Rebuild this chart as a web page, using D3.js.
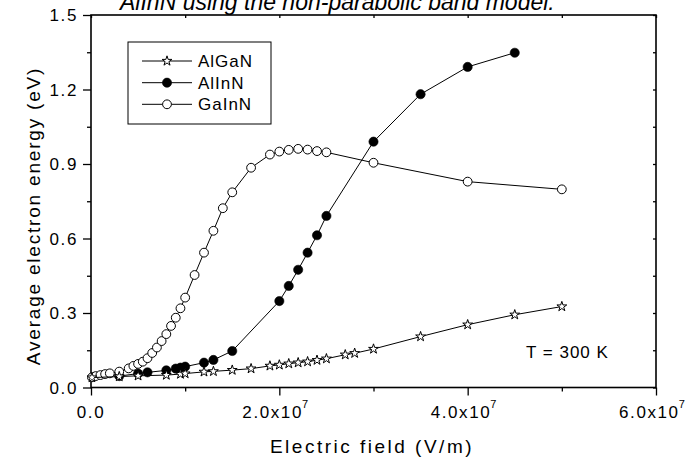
<!DOCTYPE html>
<html>
<head>
<meta charset="utf-8">
<script src="https://cdn.jsdelivr.net/npm/d3@7"></script>
<style>
  html, body { margin: 0; padding: 0; background: #fff; }
  svg { display: block; font-family: "Liberation Sans", Arial, sans-serif; }
</style>
</head>
<body>
<svg id="chart" width="699" height="457"></svg>
<script>
// ---- data (field in V/m, energy in eV) ----
const fieldGaInN = [0.01e7,0.05e7,0.10e7,0.15e7,0.2e7,0.3e7,0.4e7,0.45e7,0.5e7,0.55e7,0.6e7,0.65e7,0.7e7,0.75e7,0.8e7,0.85e7,0.9e7,0.95e7,1.0e7,1.1e7,1.2e7,1.3e7,1.4e7,1.5e7,1.7e7,1.9e7,2.0e7,2.1e7,2.2e7,2.3e7,2.4e7,2.5e7,3.0e7,4.0e7,5.0e7];
const energyGaInN = [0.041,0.046,0.050,0.054,0.057,0.064,0.077,0.087,0.095,0.104,0.118,0.139,0.161,0.187,0.215,0.248,0.281,0.319,0.362,0.453,0.543,0.631,0.722,0.786,0.885,0.938,0.950,0.957,0.961,0.958,0.952,0.947,0.905,0.829,0.798];

const fieldAlInN = [0.3e7,0.5e7,0.6e7,0.8e7,0.9e7,0.95e7,1.0e7,1.2e7,1.3e7,1.5e7,2.0e7,2.1e7,2.2e7,2.3e7,2.4e7,2.5e7,3.0e7,3.5e7,4.0e7,4.5e7];
const energyAlInN = [0.046,0.056,0.061,0.069,0.076,0.080,0.084,0.100,0.111,0.147,0.348,0.409,0.474,0.543,0.613,0.691,0.990,1.181,1.291,1.348];

const fieldAlGaN = [0.01e7,0.3e7,0.5e7,0.8e7,0.95e7,1.0e7,1.2e7,1.3e7,1.5e7,1.7e7,1.9e7,2.0e7,2.1e7,2.2e7,2.3e7,2.4e7,2.5e7,2.7e7,2.8e7,3.0e7,3.5e7,4.0e7,4.5e7,5.0e7];
const energyAlGaN = [0.040,0.044,0.047,0.050,0.054,0.056,0.063,0.065,0.070,0.076,0.087,0.091,0.096,0.100,0.104,0.110,0.116,0.132,0.138,0.155,0.205,0.253,0.293,0.326];

const seriesNames = ["AlGaN", "AlInN", "GaInN"];
const xMajorTicks = [0, 2e7, 4e7, 6e7];
const xMinorTicks = [1e7, 3e7, 5e7];
const xTickLabels = ["0.0", "2.0x10", "4.0x10", "6.0x10"];
const xTickExponent = "7";
const yMajorTicks = [0, 0.3, 0.6, 0.9, 1.2, 1.5];
const yMinorTicks = [0.15, 0.45, 0.75, 1.05, 1.35];
const yTickLabels = ["0.0", "0.3", "0.6", "0.9", "1.2", "1.5"];
const titleText = "AlInN using the non-parabolic band model.";
const xLabel = "Electric field (V/m)";
const yLabel = "Average electron energy (eV)";
const noteText = "T = 300 K";

// ---- layout ----
const L = 91, R = 656, T = 15, B = 387.5;
const svg = d3.select("#chart");
const x = d3.scaleLinear().domain([0, 6e7]).range([L, R]);
const y = d3.scaleLinear().domain([0, 1.5]).range([B, T]);

// title (clipped at top as in the source)
svg.append("text").attr("x", 120).attr("y", 10)
  .attr("font-size", 23).attr("font-style", "italic").attr("fill", "#000")
  .text(titleText);

// axes
const tickStyle = g => { g.select(".domain").remove(); g.selectAll("line").attr("stroke", "#000").attr("stroke-width", 1.3); };
svg.append("g").attr("transform", `translate(0,${B})`)
  .call(d3.axisBottom(x).tickValues(xMajorTicks).tickSize(8).tickFormat("")).call(tickStyle);
svg.append("g").attr("transform", `translate(0,${B})`)
  .call(d3.axisBottom(x).tickValues(xMinorTicks).tickSize(4).tickFormat("")).call(tickStyle);
svg.append("g").attr("transform", `translate(${L},0)`)
  .call(d3.axisLeft(y).tickValues(yMajorTicks).tickSize(8).tickFormat("")).call(tickStyle);
svg.append("g").attr("transform", `translate(${L},0)`)
  .call(d3.axisLeft(y).tickValues(yMinorTicks).tickSize(4).tickFormat("")).call(tickStyle);
// mirrored top/right ticks (inward, short)
svg.append("g").attr("transform", `translate(0,${T})`)
  .call(d3.axisBottom(x).tickValues(xMajorTicks.concat(xMinorTicks)).tickSize(3).tickFormat("")).call(tickStyle);
svg.append("g").attr("transform", `translate(${R},0)`)
  .call(d3.axisLeft(y).tickValues(yMajorTicks.concat(yMinorTicks)).tickSize(3).tickFormat("")).call(tickStyle);

// frame
svg.append("rect").attr("x", L).attr("y", T).attr("width", R - L).attr("height", B - T)
  .attr("fill", "none").attr("stroke", "#000").attr("stroke-width", 1.6);

// x tick labels
xMajorTicks.forEach((v, i) => {
  const t = svg.append("text").attr("y", 418).attr("font-size", 17)
    .attr("letter-spacing", 1.6).attr("fill", "#000");
  if (v === 0) {
    t.attr("x", x(v)).attr("text-anchor", "middle").text(xTickLabels[i]);
  } else {
    t.attr("x", x(v) - 37).attr("text-anchor", "start");
    t.append("tspan").text(xTickLabels[i]);
    t.append("tspan").attr("font-size", 11).attr("dy", -10).attr("dx", -1).text(xTickExponent);
  }
});
// y tick labels
yMajorTicks.forEach((v, i) => {
  svg.append("text").attr("x", 78).attr("y", y(v) + 6).attr("text-anchor", "end")
    .attr("font-size", 17).attr("letter-spacing", 1.6).attr("fill", "#000").text(yTickLabels[i]);
});

// axis titles
svg.append("text").attr("x", 372).attr("y", 453).attr("text-anchor", "middle")
  .attr("font-size", 19).attr("letter-spacing", 2.5).attr("fill", "#000").text(xLabel);
svg.append("text").attr("transform", "translate(40,216) rotate(-90)").attr("text-anchor", "middle")
  .attr("font-size", 19).attr("letter-spacing", 1.8).attr("fill", "#000").text(yLabel);

// series
const line = d3.line().x(d => x(d[0])).y(d => y(d[1]));
const zip = (a, b) => a.map((v, i) => [v, b[i]]);
const dAlGaN = zip(fieldAlGaN, energyAlGaN);
const dAlInN = zip(fieldAlInN, energyAlInN);
const dGaInN = zip(fieldGaInN, energyGaInN);

const starPath = d3.symbol().type(d3.symbolStar).size(30)();

const markers = {
  AlGaN: g => g.append("path").attr("d", starPath).attr("fill", "#fff").attr("stroke", "#000").attr("stroke-width", 1),
  AlInN: g => g.append("circle").attr("r", 4.6).attr("fill", "#000").attr("stroke", "#000").attr("stroke-width", 0.6),
  GaInN: g => g.append("circle").attr("r", 4.4).attr("fill", "#fff").attr("stroke", "#000").attr("stroke-width", 1)
};

function drawSeries(data, name) {
  const g = svg.append("g");
  g.append("path").datum(data).attr("d", line).attr("fill", "none").attr("stroke", "#000").attr("stroke-width", 1);
  g.selectAll("g.m").data(data).join("g").attr("class", "m")
    .attr("transform", d => `translate(${x(d[0])},${y(d[1])})`)
    .each(function () { markers[name](d3.select(this)); });
}
drawSeries(dAlInN, "AlInN");
drawSeries(dGaInN, "GaInN");
drawSeries(dAlGaN, "AlGaN");

// note
svg.append("text").attr("x", 526).attr("y", 358).attr("font-size", 17)
  .attr("letter-spacing", 1).attr("fill", "#000").text(noteText);

// legend
const lg = svg.append("g");
lg.append("rect").attr("x", 128).attr("y", 42).attr("width", 143).attr("height", 82)
  .attr("fill", "#fff").attr("stroke", "#000").attr("stroke-width", 1);
const rowY = [61, 82.7, 104.3];
seriesNames.forEach((name, i) => {
  const row = lg.append("g").attr("transform", `translate(0,${rowY[i]})`);
  row.append("line").attr("x1", 142).attr("x2", 192).attr("stroke", "#000").attr("stroke-width", 1);
  const m = row.append("g").attr("transform", "translate(167,0)");
  markers[name](m);
  row.append("text").attr("x", 198).attr("y", 6).attr("font-size", 17)
    .attr("letter-spacing", 1).attr("fill", "#000").text(name);
});
</script>
</body>
</html>
